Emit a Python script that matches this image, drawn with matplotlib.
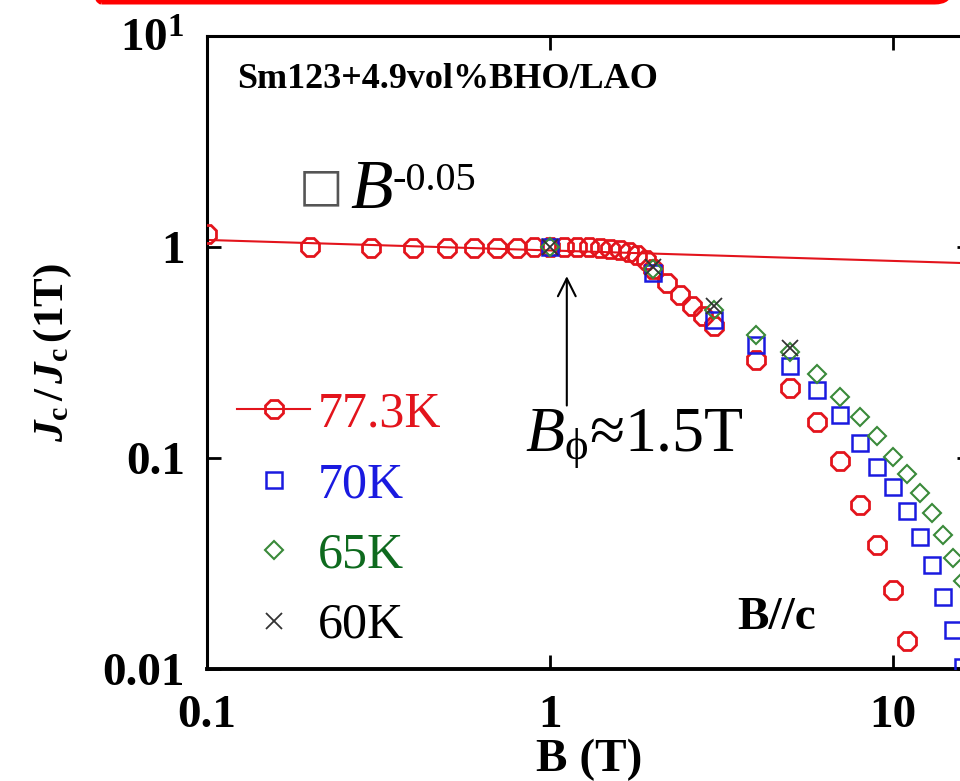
import matplotlib
matplotlib.use("Agg")
import matplotlib.pyplot as plt
from matplotlib.lines import Line2D
from matplotlib.patches import FancyBboxPatch

plt.rcParams['font.family'] = ['Liberation Serif', 'DejaVu Sans']
plt.rcParams['mathtext.fontset'] = 'custom'
plt.rcParams['mathtext.rm'] = 'Liberation Serif'
plt.rcParams['mathtext.it'] = 'Liberation Serif:italic'
plt.rcParams['mathtext.bf'] = 'Liberation Serif:bold'
plt.rcParams['mathtext.sf'] = 'Liberation Serif:bold:italic'

# ---- data ----
B_773 = [0.1, 0.2, 0.3, 0.4, 0.5, 0.6, 0.7, 0.8, 0.9, 1.0,
         1.1, 1.2, 1.3, 1.4, 1.5, 1.6, 1.7, 1.8, 1.9, 2.0,
         2.2, 2.4, 2.6, 2.8, 3.0, 4, 5, 6, 7, 8, 9, 10, 11]
J_773 = [1.15, 1.0, 0.99, 0.99, 0.99, 0.99, 0.99, 0.99, 1.0, 1.0,
         1.0, 1.0, 1.0, 0.99, 0.98, 0.97, 0.95, 0.92, 0.87, 0.79,
         0.675, 0.59, 0.525, 0.47, 0.42, 0.29, 0.214, 0.148, 0.097, 0.06, 0.0385, 0.0237, 0.0136]

B_70 = [1, 2, 3, 4, 5, 6, 7, 8, 9, 10, 11, 12, 13, 14, 15, 16]
J_70 = [1.0, 0.755, 0.45, 0.343, 0.272, 0.21, 0.16, 0.118, 0.0906, 0.0725, 0.056, 0.042, 0.031, 0.0219, 0.0153, 0.0102]

B_65 = [1, 2, 3, 4, 5, 6, 7, 8, 9, 10, 11, 12, 13, 14, 15, 16]
J_65 = [1.0, 0.79, 0.503, 0.383, 0.318, 0.25, 0.195, 0.156, 0.127, 0.101, 0.084, 0.068, 0.055, 0.043, 0.0335, 0.026]

B_60 = [1, 2, 3, 5]
J_60 = [1.0, 0.8, 0.525, 0.332]

B_fit = [0.1, 20]
J_fit = [1.08, 0.83]

labels = ['77.3K', '70K', '65K', '60K']
xtick_vals = [0.1, 1, 10]
xtick_labels = ['0.1', '1', '10']
ytick_vals = [0.01, 0.1, 1, 10]
ytick_labels = ['0.01', '0.1', '1', r'10$^{\mathbf{1}}$']

RED = '#e3141c'
BLUE = '#1a1ae0'
GREEN = '#3a8a3a'
GREEN_T = '#0e6a1e'
BLACK = '#333333'

W, H = 960, 781
fig = plt.figure(figsize=(W / 100, H / 100), dpi=100)
ax = fig.add_axes([207 / W, (H - 669) / H, 764 / W, 633 / H])
ax.set_xscale('log')
ax.set_yscale('log')
ax.set_xlim(0.1, 16.9)
ax.set_ylim(0.01, 10)

octagon = (8, 0, 22.5)
ax.plot(B_fit, J_fit, '-', color=RED, lw=1.5, zorder=2)
ax.plot(B_773, J_773, linestyle='none', marker=octagon, ms=14, mfc='none', mec=RED, mew=2.0, zorder=3)
ax.plot(B_70, J_70, linestyle='none', marker='s', ms=12, mfc='none', mec=BLUE, mew=1.8, zorder=4)
ax.plot(B_65, J_65, linestyle='none', marker='D', ms=9.5, mfc='none', mec=GREEN, mew=1.5, zorder=5)
ax.plot(B_60, J_60, linestyle='none', marker='x', ms=12, mec=BLACK, mew=1.3, zorder=6)

ax.set_xticks(xtick_vals)
ax.set_xticklabels(xtick_labels)
ax.set_yticks(ytick_vals)
ax.set_yticklabels(ytick_labels)
ax.minorticks_off()
ax.tick_params(which='both', direction='in', length=10, width=2.0,
               top=True, right=True, labelsize=34)
ax.tick_params(axis='x', pad=19)
ax.tick_params(axis='y', pad=16)
for t in ax.get_xticklabels() + ax.get_yticklabels():
    t.set_fontweight('bold')
for s in ax.spines.values():
    s.set_linewidth(2.2)
ax.spines['bottom'].set_linewidth(2.8)

ax.set_xlabel('B (T)', fontsize=34, fontweight='bold', labelpad=1)
ax.set_ylabel(r'$\mathsf{J}_{\mathbf{c}}\,\mathbf{/}\,\mathsf{J}_{\mathbf{c}}\,\mathbf{(1T)}$', fontsize=31, labelpad=20)

# legend
handles = [
    Line2D([], [], color=RED, lw=1.5, marker=octagon, ms=14, mfc='none', mec=RED, mew=2.0),
    Line2D([], [], linestyle='none', marker='s', ms=12, mfc='none', mec=BLUE, mew=1.8),
    Line2D([], [], linestyle='none', marker='D', ms=9.5, mfc='none', mec=GREEN, mew=1.5),
    Line2D([], [], linestyle='none', marker='x', ms=12, mec=BLACK, mew=1.3),
]
leg = ax.legend(handles, labels, loc='upper left',
                bbox_to_anchor=((237 - 207) / 764, (669 - 391) / 633),
                frameon=False, fontsize=36, handlelength=1.46, handletextpad=0.15,
                labelspacing=0.48, borderpad=0, borderaxespad=0,
                labelcolor=[RED, BLUE, GREEN_T, 'black'])

# annotations
ax.text(237, H - 80, 'Sm123+4.9vol%BHO/LAO', transform=None, fontsize=26,
        fontweight='bold', ha='left', va='center')
ax.text(299, H - 188, '\u25a1', transform=None, fontsize=34, color='#555555',
        family=['DejaVu Sans'], ha='left', va='center')
ax.text(350, H - 208, r'$B$', transform=None, fontsize=50,
        ha='left', va='baseline')
ax.text(393, H - 190, '-0.05', transform=None, fontsize=29,
        ha='left', va='baseline')
ax.annotate('', xy=(1.12, 0.75), xytext=(1.12, 0.172),
            arrowprops=dict(arrowstyle='->', color='black', lw=1.5, mutation_scale=32))
ax.text(525, H - 450, r'$B_{\mathrm{\phi}}$' + '\u22481.5T', transform=None,
        fontsize=46, ha='left', va='baseline')
ax.text(777, H - 618, 'B//c', transform=None, fontsize=34, fontweight='bold',
        ha='center', va='center')

# red frame at top
fig.patches.append(FancyBboxPatch((86 / W, (H - 2) / H), (950 - 86) / W, 200 / H,
                                  boxstyle='round,pad=0,rounding_size=0.016',
                                  ec='#ff0000', fc='none', lw=3.6,
                                  transform=fig.transFigure, figure=fig))

fig.savefig('out.png', dpi=100)
